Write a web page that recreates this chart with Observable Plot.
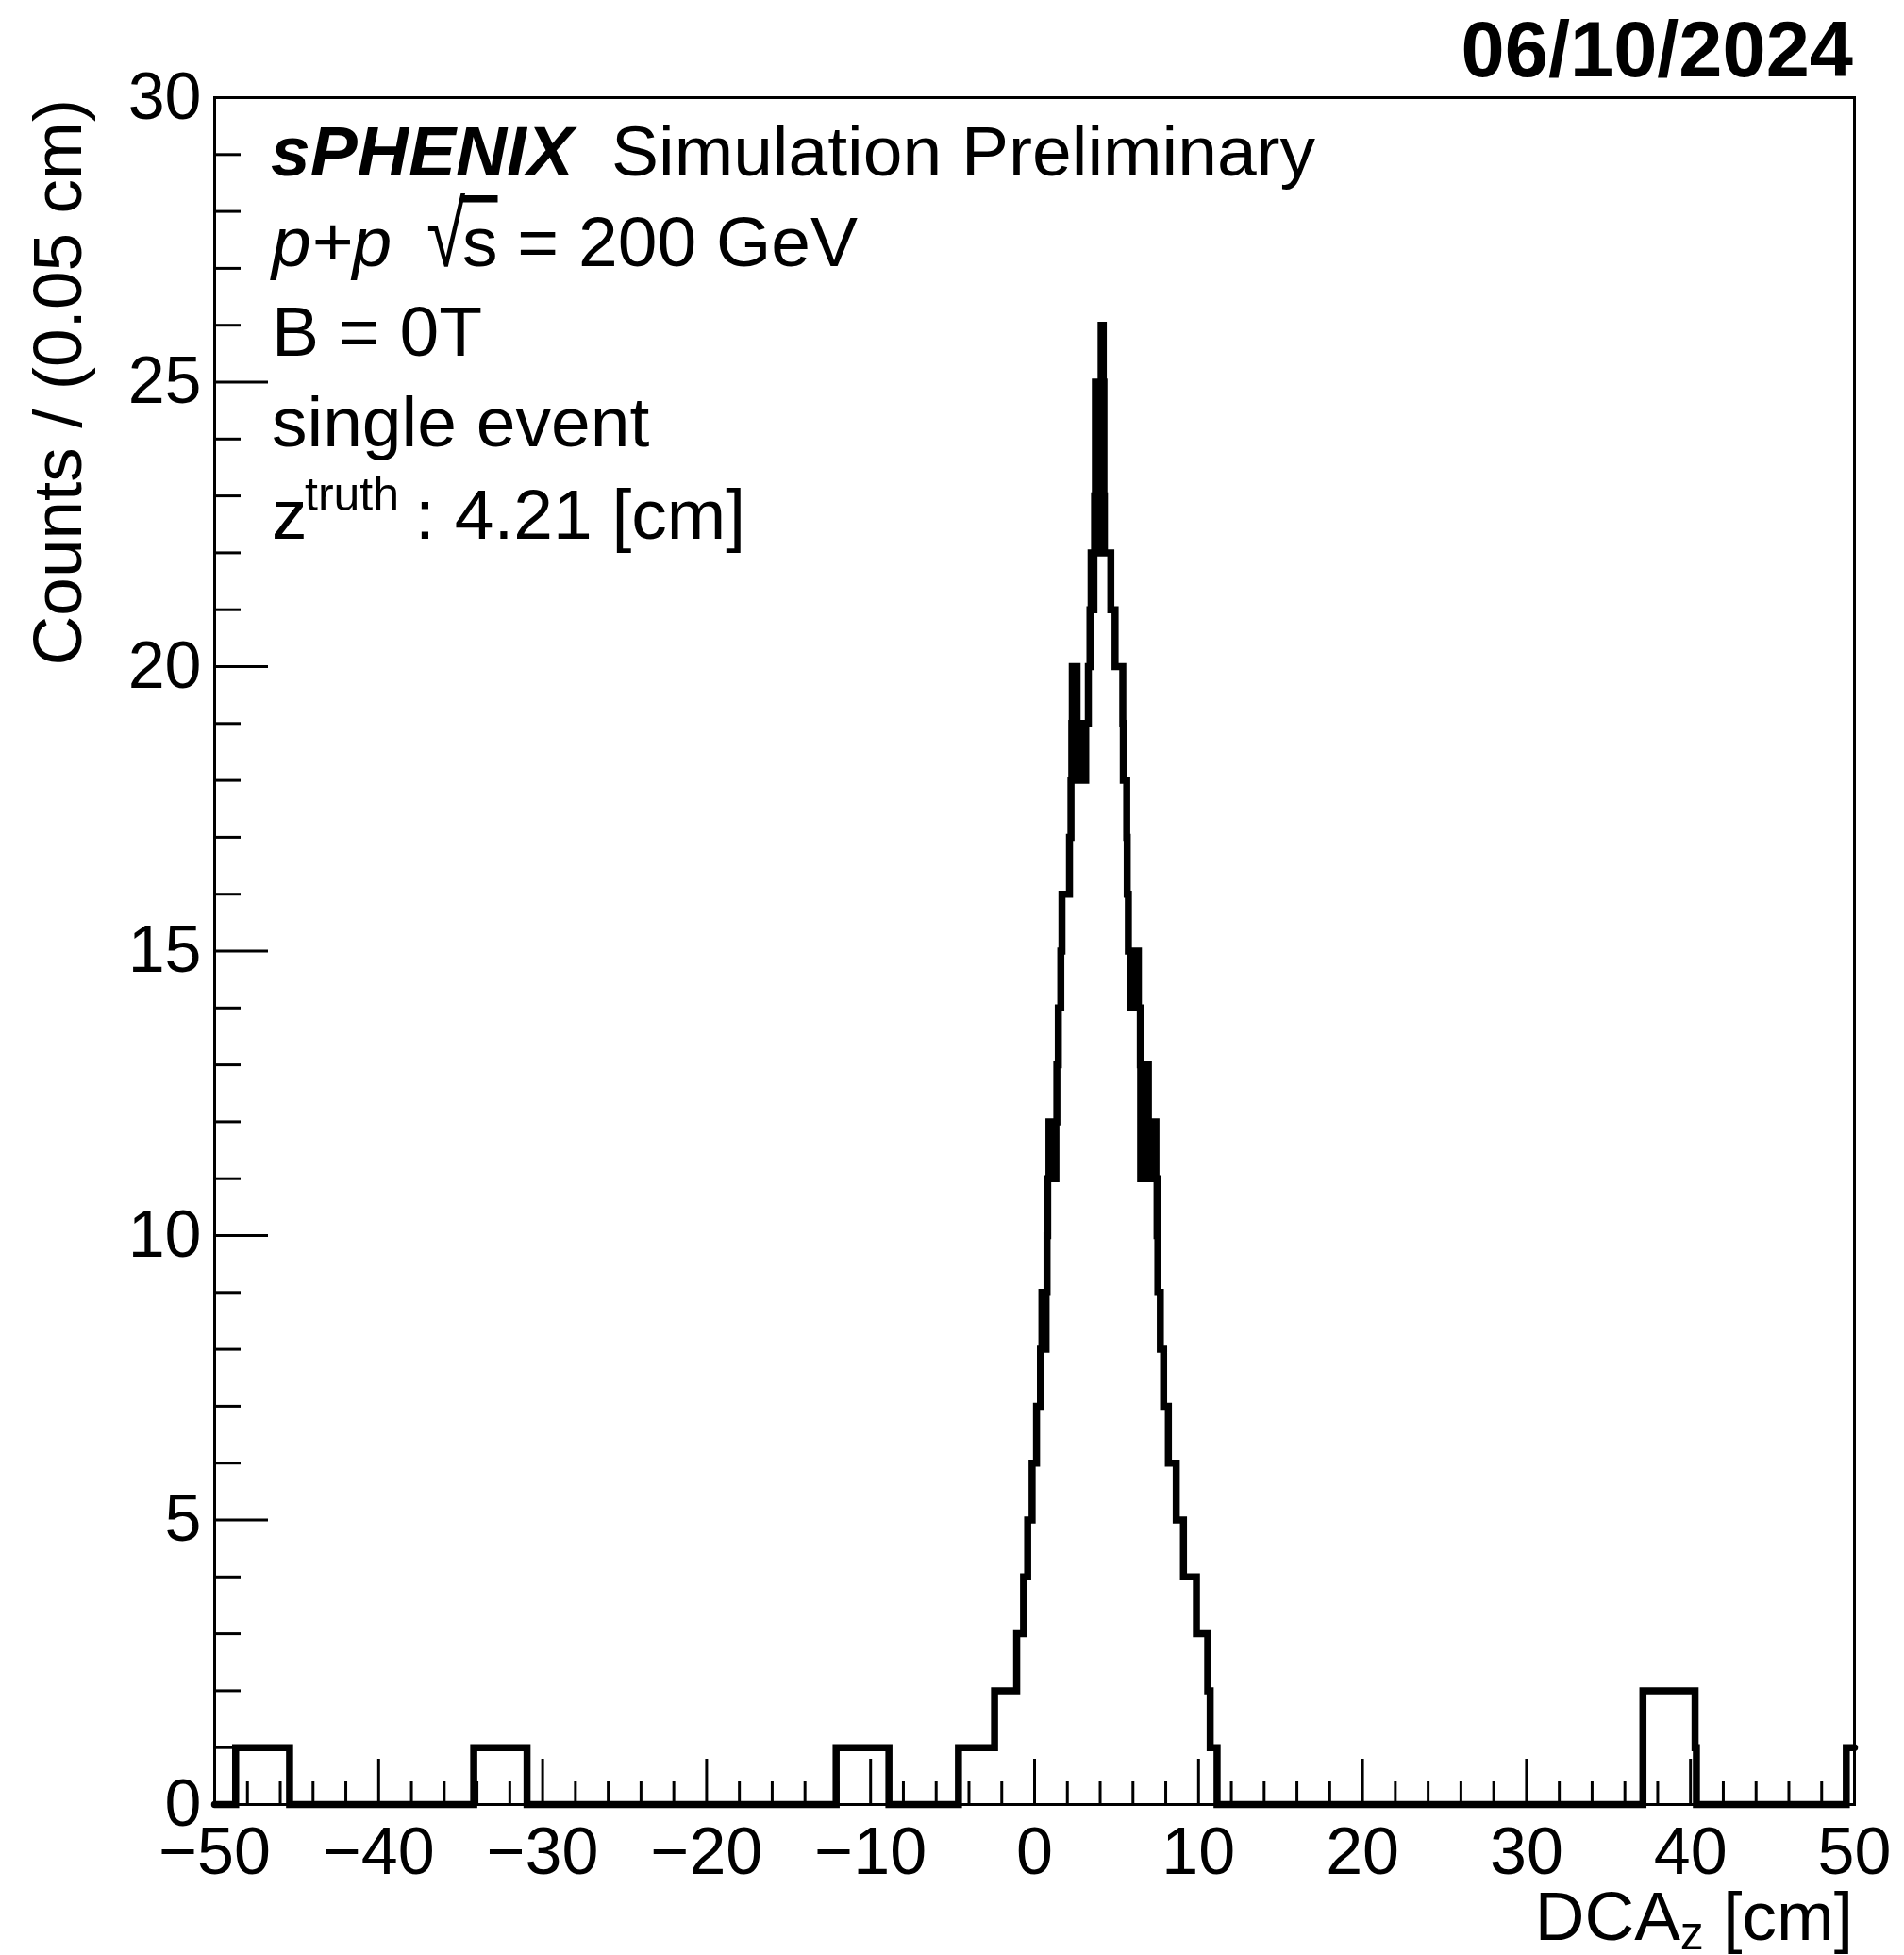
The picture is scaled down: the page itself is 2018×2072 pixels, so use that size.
<!DOCTYPE html>
<html>
<head>
<meta charset="utf-8">
<script src="https://cdn.jsdelivr.net/npm/d3@7"></script>
<script src="https://cdn.jsdelivr.net/npm/@observablehq/plot@0.6"></script>
<style>
  html, body { margin: 0; padding: 0; background: #fff; }
  #chart svg { display: block; }
</style>
</head>
<body>
<div id="chart"></div>
<script>
// ---- Data: step histogram (left bin edge -> count from that edge on) ----
const binEdges = [
  -50, -48.72, -45.43, -34.2, -30.95, -12.1, -8.88, -4.64, -2.44, -1.09,
  -0.67, -0.42, -0.15, 0.12, 0.36, 0.45, 0.52, 0.58, 0.64, 0.70,
  0.76, 0.80, 0.88, 0.95, 1.02, 1.10, 1.18, 1.25, 1.30, 1.36,
  1.45, 1.60, 1.67, 2.13, 2.22, 2.27, 2.30, 2.59, 2.66, 2.73,
  2.80, 2.88, 2.95, 3.05, 3.12, 3.28, 3.38, 3.45, 3.52, 3.62,
  3.66, 3.71, 3.76, 3.81, 3.86, 3.91, 3.96, 4.01, 4.06, 4.10,
  4.14, 4.19, 4.23, 4.26, 4.65, 4.91, 5.38, 5.41, 5.62, 5.65,
  5.72, 5.87, 5.95, 6.03, 6.10, 6.18, 6.25, 6.33, 6.45, 6.47,
  6.52, 6.58, 6.64, 6.70, 6.76, 6.82, 6.88, 6.94, 7.00, 7.08,
  7.16, 7.24, 7.32, 7.40, 7.47, 7.52, 7.67, 7.87, 8.16, 8.64,
  9.08, 9.87, 10.56, 10.71, 11.13, 37.1, 40.28, 40.36, 49.5, 50
];
const binCounts = [
  0, 1, 0, 1, 0, 1, 0, 1, 2, 3,
  4, 5, 6, 7, 8, 9, 8, 9, 8, 9,
  10, 11, 12, 11, 12, 11, 12, 11, 12, 13,
  14, 15, 16, 17, 18, 19, 20, 18, 19, 18,
  19, 18, 19, 18, 19, 20, 21, 22, 21, 22,
  23, 25, 22, 24, 22, 25, 23, 25, 26, 22,
  26, 25, 23, 22, 21, 20, 19, 18, 17, 16,
  15, 14, 15, 14, 15, 14, 15, 14, 13, 11,
  13, 12, 13, 11, 13, 12, 13, 11, 12, 11,
  12, 11, 12, 11, 10, 9, 8, 7, 6, 5,
  4, 3, 2, 1, 0, 2, 1, 0, 1, 1
];

// ---- Axes ----
const xMajorTicks = [-50, -40, -30, -20, -10, 0, 10, 20, 30, 40, 50];
const xMinorTicks = [-48, -46, -44, -42, -38, -36, -34, -32, -28, -26, -24, -22, -18, -16, -14, -12, -8, -6, -4, -2,
                     2, 4, 6, 8, 12, 14, 16, 18, 22, 24, 26, 28, 32, 34, 36, 38, 42, 44, 46, 48];
const yMajorTicks = [0, 5, 10, 15, 20, 25, 30];
const yMinorTicks = [1, 2, 3, 4, 6, 7, 8, 9, 11, 12, 13, 14, 16, 17, 18, 19, 21, 22, 23, 24, 26, 27, 28, 29];

// ---- Texts ----
const dateLabel = "06/10/2024";
const expName = "sPHENIX";
const expStatus = "Simulation Preliminary";
const collSystem = "p+p";
const sqrtSign = "\u221A";
const sqrtArg = "s";
const energyLabel = " = 200 GeV";
const fieldLabel = "B = 0T";
const eventLabel = "single event";
const ztruthBase = "z";
const ztruthSup = "truth";
const ztruthValue = ": 4.21 [cm]";
const yTitle = "Counts / (0.05 cm)";
const xTitleMain = "DCA";
const xTitleSub = "z";
const xTitleUnit = " [cm]";

const FONT = "'Liberation Sans', Arial, Helvetica, sans-serif";

const hist = binEdges.map((e, i) => ({edge: e, count: binCounts[i]}));

const chart = Plot.plot({
  width: 2018,
  height: 2072,
  marginLeft: 227,
  marginRight: 53,
  marginTop: 103,
  marginBottom: 160,
  style: {fontFamily: FONT, background: "white", color: "black"},
  x: {domain: [-50, 50]},
  y: {domain: [0, 30]},
  marks: [
    Plot.axisX(xMinorTicks, {anchor: "bottom", tickSize: -24, strokeWidth: 3, fill: "none", label: null}),
    Plot.axisX(xMajorTicks, {anchor: "bottom", tickSize: -48, tickPadding: 72, strokeWidth: 3,
      fontSize: 70, tickFormat: d3.format("d"), label: null}),
    Plot.axisY(yMinorTicks, {anchor: "left", tickSize: -28, strokeWidth: 3, fill: "none", label: null}),
    Plot.axisY(yMajorTicks, {anchor: "left", tickSize: -57, tickPadding: 71, strokeWidth: 3,
      fontSize: 70, tickFormat: d3.format("d"), label: null}),
    Plot.frame({stroke: "black", strokeWidth: 3}),
    Plot.line(hist, {x: "edge", y: "count", curve: "step-after", stroke: "black",
      strokeWidth: 7.5, strokeLinejoin: "miter", strokeMiterlimit: 10})
  ]
});

document.getElementById("chart").append(chart);

const svg = d3.select(chart);
const g = svg.append("g").attr("font-family", FONT).attr("fill", "black").attr("text-anchor", "start");

// date (top right)
g.append("text").attr("x", 1964).attr("y", 81).attr("text-anchor", "end")
  .attr("font-weight", "bold").attr("font-size", 83).text(dateLabel);

// annotation block
const l1 = g.append("text").attr("y", 186).attr("font-size", 75).attr("text-anchor", "start");
l1.append("tspan").attr("x", 287).attr("font-weight", "bold").attr("font-style", "italic").text(expName);
l1.append("tspan").attr("x", 648).text(expStatus);

g.append("text").attr("x", 288).attr("y", 282).attr("font-size", 75).attr("text-anchor", "start")
  .attr("font-style", "italic").text(collSystem);
g.append("text").attr("transform", "translate(452,282) scale(1,1.3)")
  .attr("font-size", 75).attr("text-anchor", "start").text(sqrtSign);
const l2 = g.append("text").attr("x", 490).attr("y", 282).attr("font-size", 75).attr("text-anchor", "start");
l2.append("tspan").style("text-decoration", "overline").text(sqrtArg);
l2.append("tspan").text(energyLabel);

g.append("text").attr("x", 288).attr("y", 377).attr("font-size", 75).attr("text-anchor", "start").text(fieldLabel);
g.append("text").attr("x", 288).attr("y", 473).attr("font-size", 75).attr("text-anchor", "start").text(eventLabel);

const l5 = g.append("text").attr("y", 571).attr("font-size", 75).attr("text-anchor", "start");
l5.append("tspan").attr("x", 288).text(ztruthBase);
l5.append("tspan").attr("x", 323).attr("dy", -30).attr("font-size", 50).text(ztruthSup);
l5.append("tspan").attr("x", 440).attr("dy", 30).text(ztruthValue);

// y title
g.append("text").attr("transform", "translate(86,105) rotate(-90)")
  .attr("text-anchor", "end").attr("font-size", 73).text(yTitle);

// x title
const xt = g.append("text").attr("x", 1964).attr("y", 2056).attr("text-anchor", "end").attr("font-size", 73);
xt.append("tspan").text(xTitleMain);
xt.append("tspan").attr("dy", 10).attr("font-size", 50).text(xTitleSub);
xt.append("tspan").attr("dy", -10).text(xTitleUnit);
</script>
</body>
</html>
